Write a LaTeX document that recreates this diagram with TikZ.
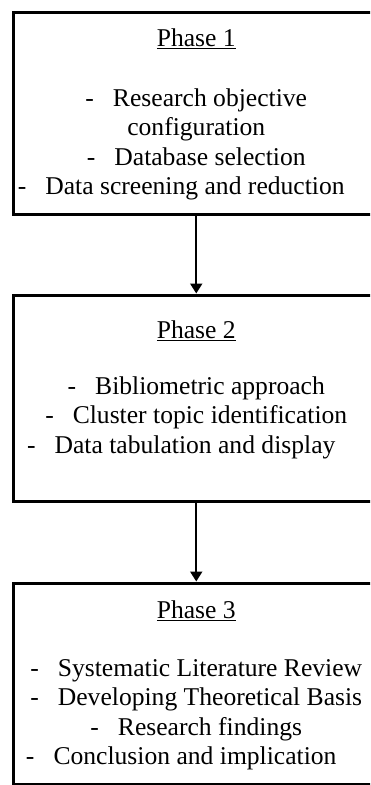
\documentclass[tikz,border=0pt]{standalone}
\usepackage{fontspec}
\setmainfont{Liberation Serif}
\usetikzlibrary{arrows.meta}
\newcommand{\dashline}[1]{-\hspace{19pt}#1\hspace*{30pt}}
\begin{document}
\begin{tikzpicture}[x=1pt, y=-1pt, >={Triangle[width=12pt,length=10pt]},
    phasebox/.style={draw, line width=3pt, minimum width=365.5pt, inner sep=0pt},
    phasetext/.style={anchor=north, align=center, inner sep=0pt,
        font=\fontsize{25.6}{29.5}\selectfont}]
    \useasboundingbox (0,0) rectangle (370,785);
    \clip (0,0) rectangle (370,785);
    % boxes
    \node[phasebox, minimum height=201.5pt] (box1) at (196.25,113.25) {};
    \node[phasebox, minimum height=206pt] (box2) at (196.25,398) {};
    \node[phasebox, minimum height=201.5pt] (box3) at (196.25,683.75) {};
    % texts
    \node[phasetext] (txt1) at (196.25,29) {\underline{Phase 1}\\[30pt]
        \dashline{Research objective}\\ configuration\\
        \dashline{Database selection}\\ \dashline{Data screening and reduction}};
    \node[phasetext] (txt2) at (196.25,320.5) {\underline{Phase 2}\\[26.5pt]
        \dashline{Bibliometric approach}\\ \dashline{Cluster topic identification}\\
        \dashline{Data tabulation and display}};
    \node[phasetext] (txt3) at (196.25,600.5) {\underline{Phase 3}\\[28.5pt]
        \dashline{Systematic Literature Review}\\ \dashline{Developing Theoretical Basis}\\
        \dashline{Research findings}\\ \dashline{Conclusion and implication}};
    % arrows
    \draw[->, line width=2pt] (box1.south) -- (box2.north);
    \draw[->, line width=2pt] (box2.south) -- (box3.north);
\end{tikzpicture}
\end{document}
